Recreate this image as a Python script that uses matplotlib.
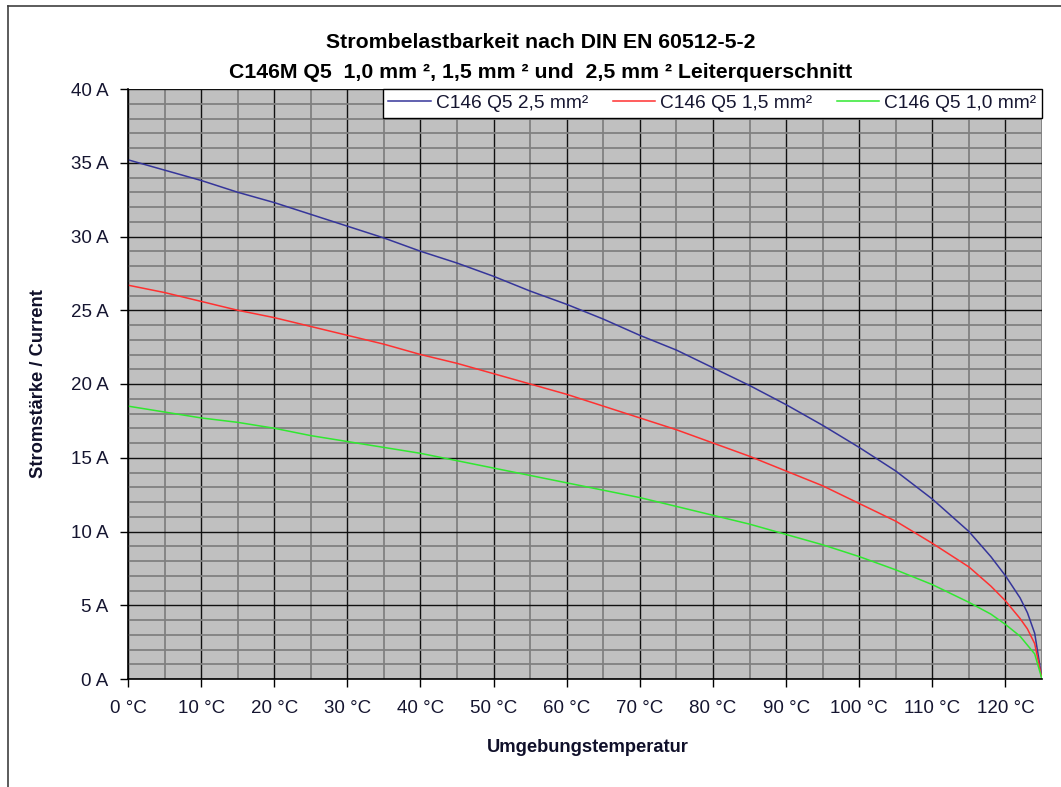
import matplotlib
matplotlib.use("Agg")
import matplotlib.pyplot as plt
from matplotlib.lines import Line2D
from matplotlib.ticker import MultipleLocator, FuncFormatter

plt.rcParams['font.family'] = ['Liberation Sans', 'DejaVu Sans']

# temperatures (°C) and current values (A)
temp = [0, 5, 10, 15, 20, 25, 30, 35, 40, 45, 50, 55, 60, 65, 70, 75, 80,
        85, 90, 95, 100, 105, 110, 115, 118, 120, 122, 123, 124, 125]
i_25 = [35.2, 34.5, 33.8, 33.0, 32.3, 31.5, 30.7, 29.9, 29.0, 28.2, 27.3,
        26.3, 25.4, 24.4, 23.3, 22.3, 21.1, 19.9, 18.6, 17.2, 15.7, 14.1,
        12.2, 10.0, 8.3, 7.0, 5.5, 4.5, 3.1, 0.0]
i_15 = [26.7, 26.2, 25.6, 25.0, 24.5, 23.9, 23.3, 22.7, 22.0, 21.4, 20.7,
        20.0, 19.3, 18.5, 17.7, 16.9, 16.0, 15.1, 14.1, 13.1, 11.9, 10.7,
        9.2, 7.6, 6.3, 5.3, 4.1, 3.4, 2.4, 0.0]
i_10 = [18.5, 18.1, 17.7, 17.4, 17.0, 16.5, 16.1, 15.7, 15.3, 14.8, 14.3,
        13.8, 13.3, 12.8, 12.3, 11.7, 11.1, 10.5, 9.8, 9.1, 8.3, 7.4,
        6.4, 5.2, 4.4, 3.7, 2.9, 2.3, 1.7, 0.0]

series = [
    ("C146 Q5 2,5 mm²", i_25, "#35359a"),
    ("C146 Q5 1,5 mm²", i_15, "#ff3030"),
    ("C146 Q5 1,0 mm²", i_10, "#30e830"),
]

W, H = 1061, 787
fig = plt.figure(figsize=(W / 100, H / 100), dpi=100)
fig.patch.set_facecolor("white")

# outer frame (left and top edges visible)
fig.add_artist(Line2D([7.5 / W, 7.5 / W], [0, 1 - 6 / H], transform=fig.transFigure,
                      color="#404040", lw=1.2))
fig.add_artist(Line2D([7.5 / W, 1], [1 - 6 / H, 1 - 6 / H], transform=fig.transFigure,
                      color="#404040", lw=1.2))

ax = fig.add_axes([128 / W, 1 - 679 / H, (1042 - 128) / W, (679 - 89) / H])
ax.set_facecolor("#c0c0c0")

for label, vals, col in series:
    ax.plot(temp, vals, color=col, lw=1.1, label=label)

ax.set_xlim(0, 125)
ax.set_ylim(0, 40)
ax.xaxis.set_major_locator(MultipleLocator(10))
ax.xaxis.set_minor_locator(MultipleLocator(5))
ax.yaxis.set_major_locator(MultipleLocator(5))
ax.yaxis.set_minor_locator(MultipleLocator(1))
ax.xaxis.set_major_formatter(FuncFormatter(lambda v, p: f"{int(v)} °C"))
ax.yaxis.set_major_formatter(FuncFormatter(lambda v, p: f"{int(v)} A"))

ax.grid(which="minor", color="#808080", lw=1.3)
ax.grid(which="major", color="#101010", lw=1.0)
ax.set_axisbelow(True)

ax.tick_params(which="major", direction="out", length=6, width=1, color="black",
               labelsize=13.5, labelcolor="#151530")
ax.tick_params(axis="x", which="major", pad=9)
ax.tick_params(axis="y", which="major", pad=8)
ax.tick_params(which="minor", length=0)

for s in ["top", "right"]:
    ax.spines[s].set_visible(False)
for s in ["left", "bottom"]:
    ax.spines[s].set_color("black")
    ax.spines[s].set_linewidth(1.2)

leg = ax.legend(loc="upper right", bbox_to_anchor=(1.0, 1.0), borderaxespad=0,
                ncol=3, fontsize=13.8, frameon=True, fancybox=False,
                edgecolor="black", framealpha=1, handlelength=2.2,
                handletextpad=0.26, columnspacing=1.3, borderpad=0.3)
leg.get_frame().set_linewidth(1.0)
for t in leg.get_texts():
    t.set_color("#151530")

fig.text(541 / W, 1 - 43 / H, "Strombelastbarkeit nach DIN EN 60512-5-2",
         ha="center", va="center", fontsize=15.3, fontweight="bold")
fig.text(541 / W, 1 - 72 / H,
         "C146M Q5  1,0 mm ², 1,5 mm ² und  2,5 mm ² Leiterquerschnitt",
         ha="center", va="center", fontsize=15.3, fontweight="bold")

fig.text(588 / W, 1 - 748 / H, "Umgebungstemperatur", ha="center", va="center",
         fontsize=13.2, fontweight="bold", color="#10102a")
fig.text(39 / W, 1 - 384 / H, "Stromstärke / Current", ha="center", va="center",
         rotation=90, fontsize=13.2, fontweight="bold", color="#10102a")

fig.savefig("out.png", dpi=100)
